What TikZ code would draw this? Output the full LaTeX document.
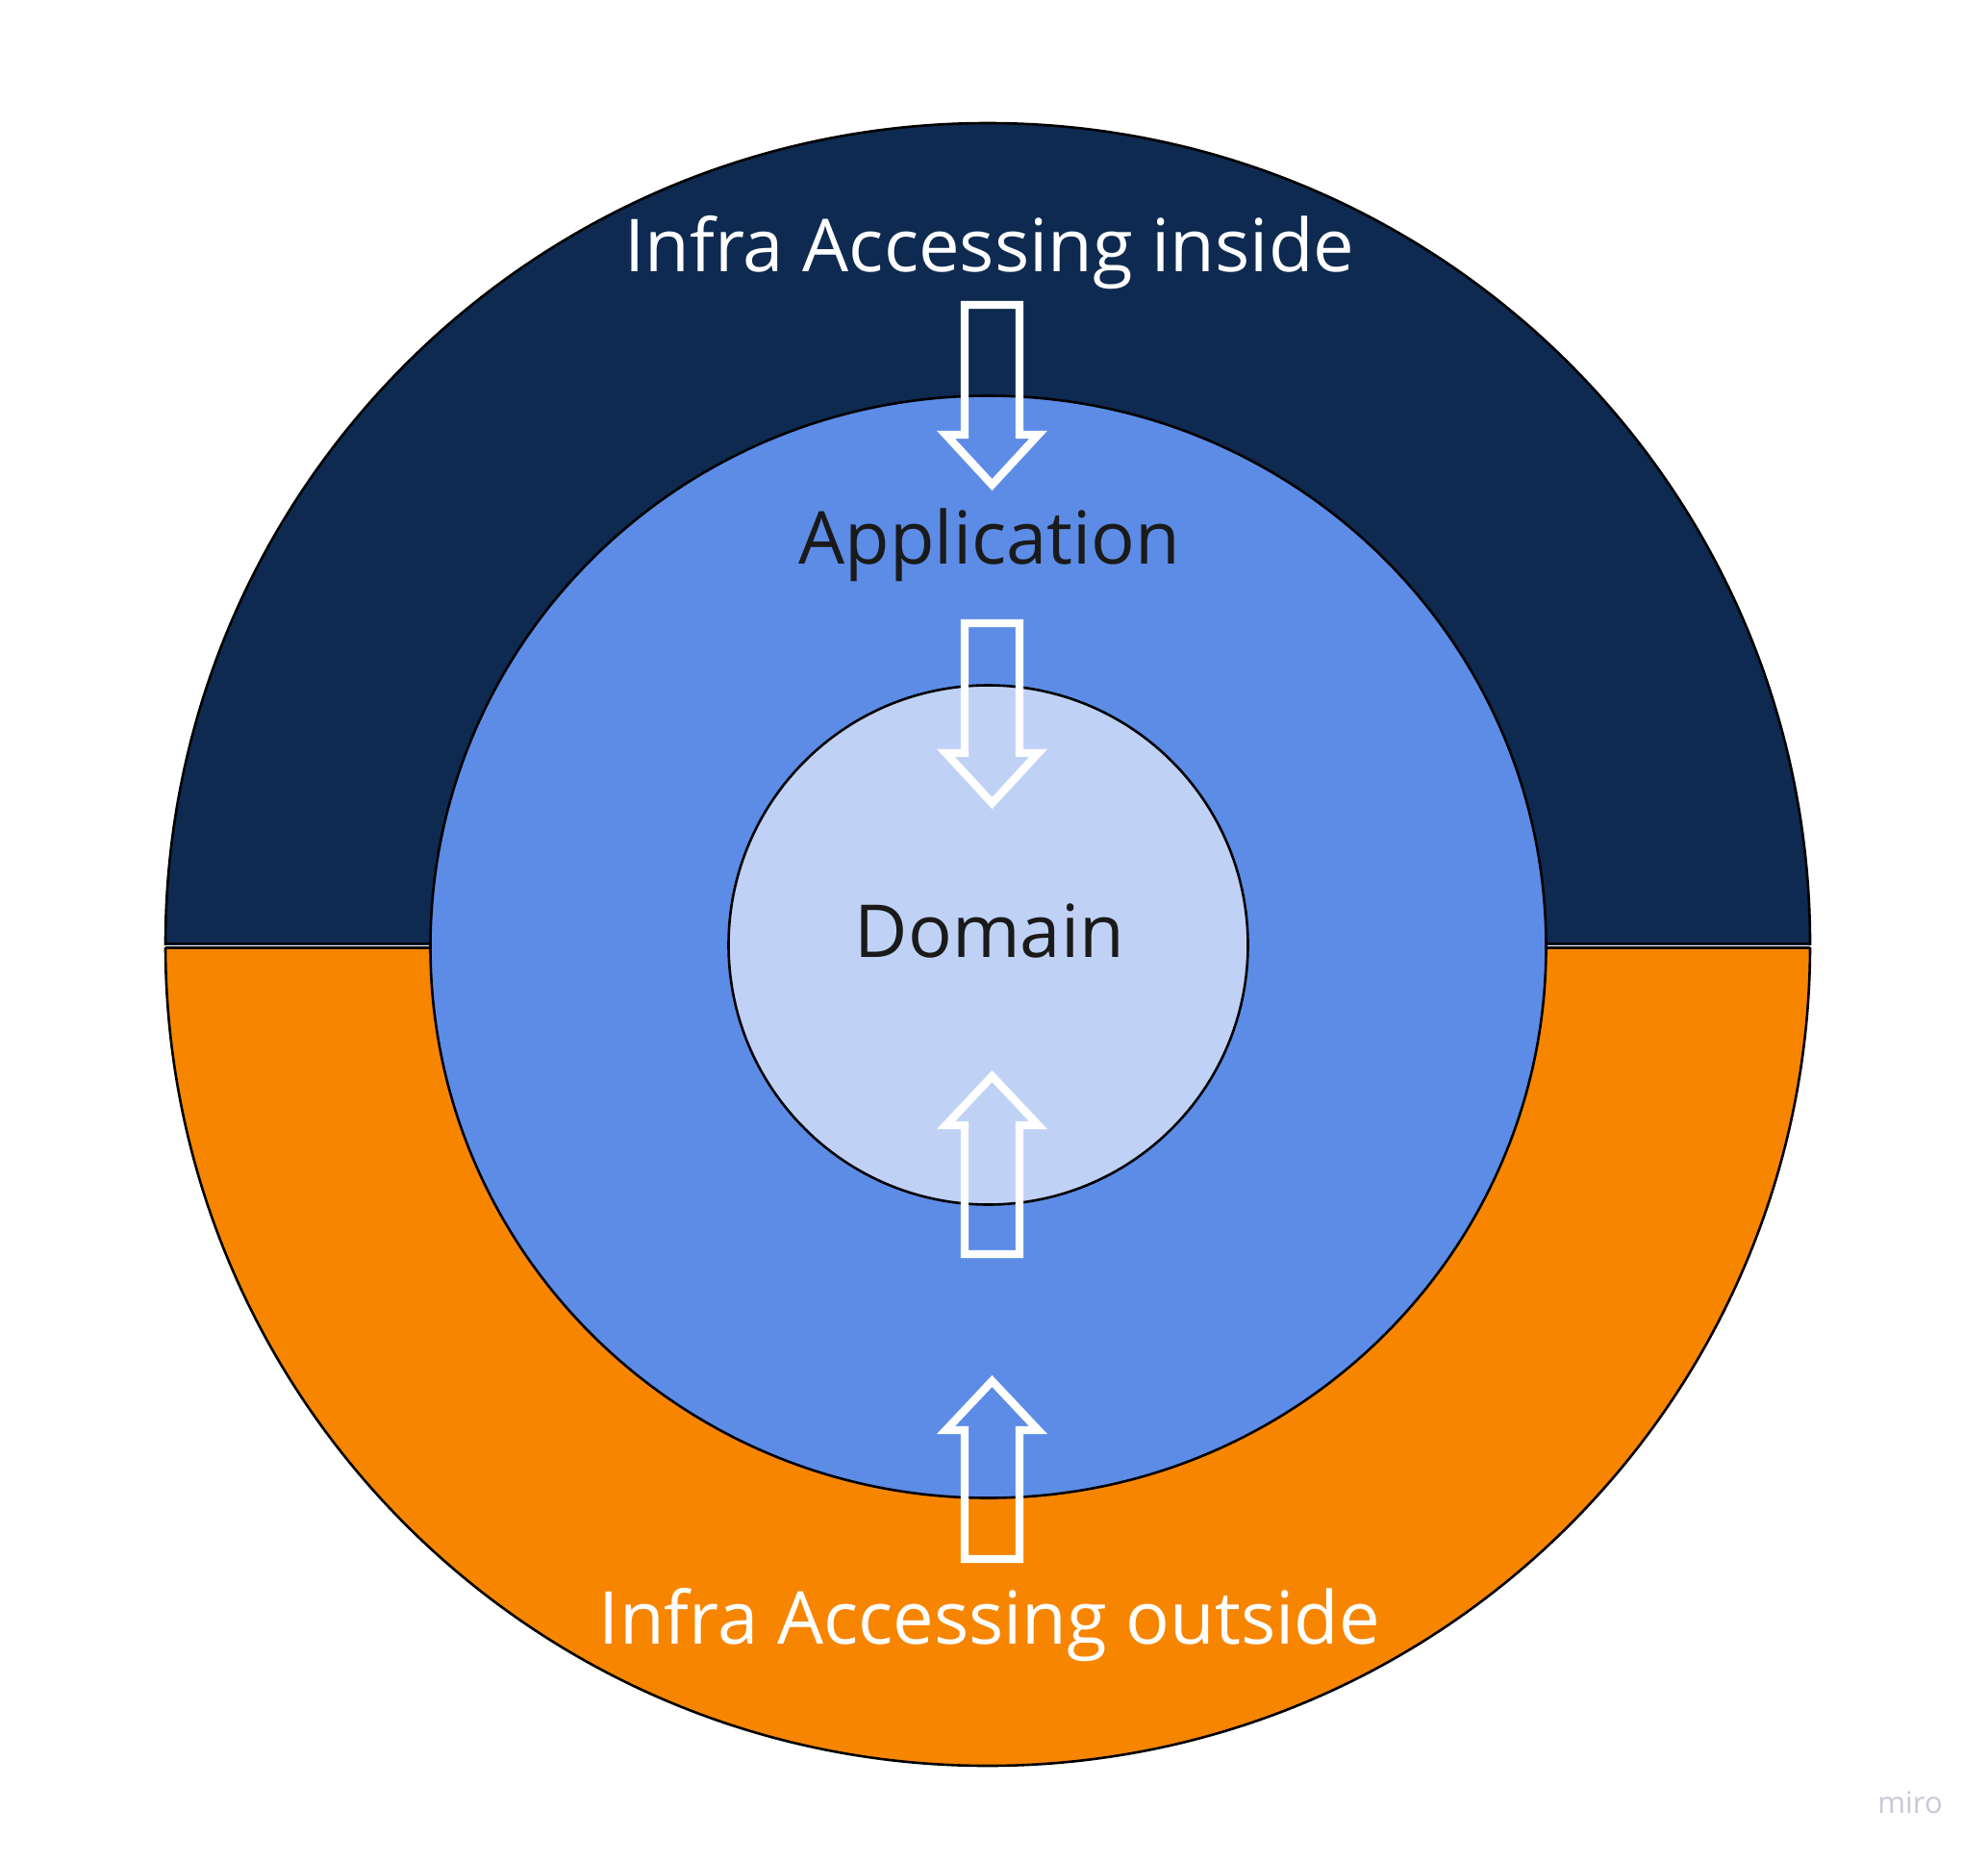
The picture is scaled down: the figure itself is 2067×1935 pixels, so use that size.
\documentclass[tikz,border=0pt]{standalone}
\usepackage{fontspec}
\setmainfont{Open Sans}
\usetikzlibrary{shapes.geometric}
\definecolor{navy}{HTML}{0E2A50}
\definecolor{appblue}{HTML}{5D8CE6}
\definecolor{domblue}{HTML}{BFD2F6}
\definecolor{infraorange}{HTML}{F78500}
\definecolor{txtdark}{HTML}{1A1A1A}
\definecolor{mirogray}{HTML}{C8C9D8}
\tikzset{
  ring/.style={draw=black, line width=2.6pt},
  bigtext/.style={anchor=base, font=\fontsize{76}{90}\selectfont, inner sep=0pt},
  hollowarrow/.style={draw=white, line width=8.3pt, line join=miter, miter limit=10},
  pics/downarrow/.style={code={
    \draw[hollowarrow] (-28.5,0) -- (28.5,0) -- (28.5,135) -- (48,135) -- (0,187)
      -- (-48,135) -- (-28.5,135) -- cycle;}},
  pics/uparrow/.style={code={
    \draw[hollowarrow] (0,0) -- (48,51) -- (28.5,51) -- (28.5,185) -- (-28.5,185)
      -- (-28.5,51) -- (-48,51) -- cycle;}},
}
\begin{document}
\begin{tikzpicture}[x=1pt,y=-1pt]
\useasboundingbox (0,0) rectangle (2067,1935);
\fill[white] (0,0) rectangle (2067,1935);
% outer halves
\coordinate (O) at (1027,982);
\begin{scope}
  \clip (0,0) rectangle (2067,982);
  \fill[navy] (O) ellipse [x radius=855, y radius=854];
  \draw[ring] (O) ellipse [x radius=855, y radius=854];
\end{scope}
\begin{scope}
  \clip (0,985) rectangle (2067,1935);
  \fill[infraorange] (O) ellipse [x radius=855, y radius=854];
  \draw[ring] (O) ellipse [x radius=855, y radius=854];
\end{scope}
\coordinate (tl) at (172,981);
\coordinate (tr) at (1882,981);
\coordinate (bl) at (172,985.5);
\coordinate (br) at (1882,985.5);
\draw[black, line width=2.3pt] (tl) -- (tr);
\draw[black, line width=2.3pt] (bl) -- (br);
% application ring
\node[ellipse, ring, fill=appblue, minimum width=1160pt, minimum height=1146pt, inner sep=0pt] (app) at (1027.5,984.5) {};
% domain
\node[circle, ring, fill=domblue, minimum size=540pt, inner sep=0pt] (dom) at (1027.5,982.5) {};
% arrows
\pic at (1031.5,317) {downarrow};
\pic at (1031.5,648) {downarrow};
\pic at (1031.5,1119) {uparrow};
\pic at (1031.5,1436) {uparrow};
% texts
\node[bigtext, text=white] (tin) at (1029,282) {Infra Accessing inside};
\node[bigtext, text=txtdark] (tapp) at (1029,586) {Application};
\node[bigtext, text=txtdark] (tdom) at (1029,995) {Domain};
\node[bigtext, text=white] (tout) at (1029,1709) {Infra Accessing outside};
\node[anchor=base, inner sep=0pt, text=mirogray, font=\fontsize{31}{36}\selectfont] (miro) at (1986,1885) {miro};
\end{tikzpicture}
\end{document}
